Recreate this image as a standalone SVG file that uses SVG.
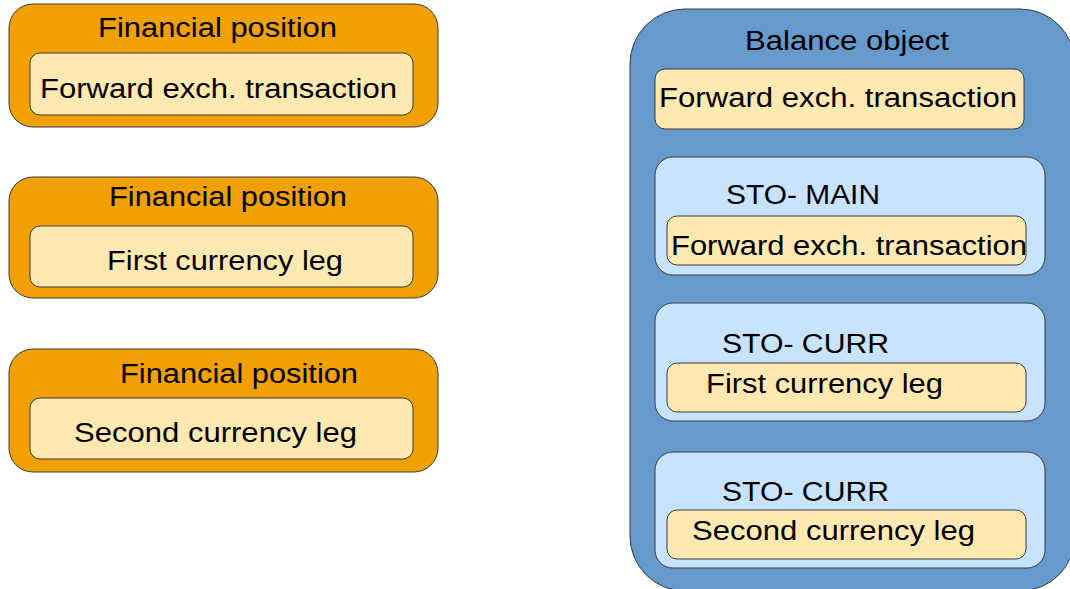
<svg xmlns="http://www.w3.org/2000/svg" width="1070" height="589" viewBox="0 0 1070 589">
<style>
.pos{fill:#F0A000;stroke:#3a3a3a;stroke-width:1}
.item{fill:#FFE9B0;stroke:#3a3a3a;stroke-width:1}
.bal{fill:#6699CC;stroke:#3a3a3a;stroke-width:1}
.sto{fill:#C8E3FF;stroke:#3a3a3a;stroke-width:1}
text{font-family:"Liberation Sans",Arial,sans-serif;font-size:27px;fill:#000}
</style>
<rect width="1070" height="589" fill="#fff"/>
<g id="fp1">
<rect class="pos" x="9" y="4" width="429" height="123" rx="24"/>
<text x="98" y="37" textLength="239" lengthAdjust="spacingAndGlyphs">Financial position</text>
<rect class="item" x="30" y="53" width="383" height="62" rx="10"/>
<text x="40" y="98" textLength="357" lengthAdjust="spacingAndGlyphs">Forward exch. transaction</text>
</g>
<g id="fp2">
<rect class="pos" x="9" y="177" width="429" height="121" rx="24"/>
<text x="109" y="206" textLength="238" lengthAdjust="spacingAndGlyphs">Financial position</text>
<rect class="item" x="30" y="226" width="383" height="61" rx="10"/>
<text x="107" y="270" textLength="236" lengthAdjust="spacingAndGlyphs">First currency leg</text>
</g>
<g id="fp3">
<rect class="pos" x="9" y="349" width="429" height="123" rx="24"/>
<text x="120" y="383" textLength="238" lengthAdjust="spacingAndGlyphs">Financial position</text>
<rect class="item" x="30" y="398" width="383" height="61" rx="10"/>
<text x="74" y="442" textLength="283" lengthAdjust="spacingAndGlyphs">Second currency leg</text>
</g>
<g id="balance">
<rect class="bal" x="630" y="9" width="445" height="582" rx="55"/>
<text x="745" y="50" textLength="204" lengthAdjust="spacingAndGlyphs">Balance object</text>
</g>
<g id="bo-fet">
<rect class="item" x="655" y="69" width="369" height="60" rx="10"/>
<text x="659" y="107" textLength="358" lengthAdjust="spacingAndGlyphs">Forward exch. transaction</text>
</g>
<g id="sto-main">
<rect class="sto" x="655" y="157" width="390" height="118" rx="18"/>
<text x="726" y="204" textLength="154" lengthAdjust="spacingAndGlyphs">STO- MAIN</text>
<rect class="item" x="667" y="216" width="359" height="49" rx="10"/>
<text x="671" y="255" textLength="356" lengthAdjust="spacingAndGlyphs">Forward exch. transaction</text>
</g>
<g id="sto-curr1">
<rect class="sto" x="655" y="303" width="390" height="118" rx="18"/>
<text x="722" y="353" textLength="167" lengthAdjust="spacingAndGlyphs">STO- CURR</text>
<rect class="item" x="667" y="363" width="359" height="49" rx="10"/>
<text x="706" y="393" textLength="237" lengthAdjust="spacingAndGlyphs">First currency leg</text>
</g>
<g id="sto-curr2">
<rect class="sto" x="655" y="452" width="390" height="116" rx="18"/>
<text x="722" y="501" textLength="167" lengthAdjust="spacingAndGlyphs">STO- CURR</text>
<rect class="item" x="667" y="510" width="359" height="49" rx="10"/>
<text x="692" y="540" textLength="283" lengthAdjust="spacingAndGlyphs">Second currency leg</text>
</g>
<g id="connectors"></g>
</svg>
